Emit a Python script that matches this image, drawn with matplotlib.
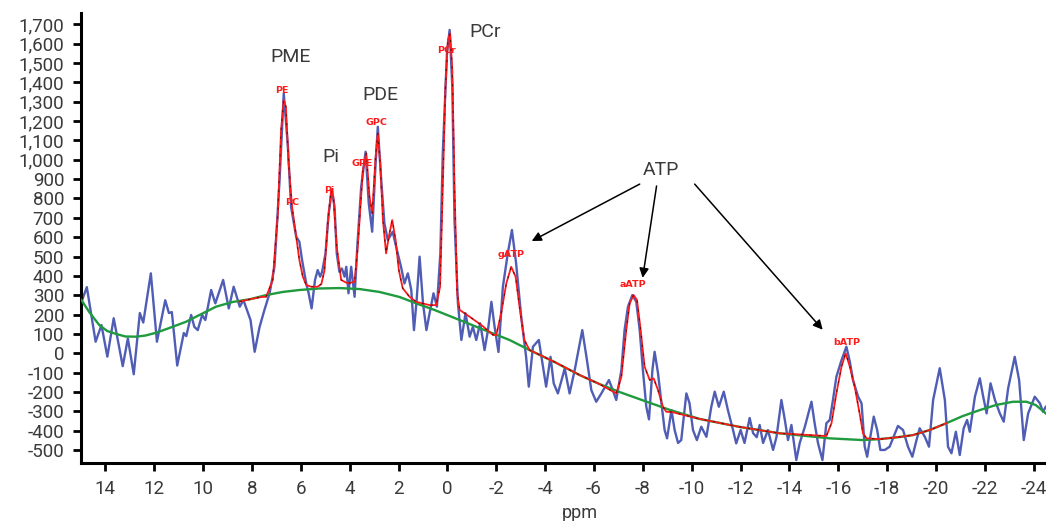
import numpy as np
import matplotlib
matplotlib.use("Agg")
import matplotlib.pyplot as plt

# ---- data (ppm, intensity) ----
spec_ppm = [14.95, 14.76, 14.40, 14.16, 13.92, 13.66, 13.29, 13.08, 12.84, 12.59,
            12.45, 12.14, 11.89, 11.55, 11.40, 11.28, 11.06, 10.79, 10.69, 10.49,
            10.36, 10.22, 10.04, 9.91, 9.67, 9.50, 9.18, 8.95, 8.75, 8.50,
            8.35, 8.06, 7.89, 7.69, 7.49, 7.28, 7.08, 6.87, 6.70, 6.53,
            6.40, 6.19, 6.06, 5.95, 5.78, 5.68, 5.56, 5.42, 5.31, 5.21,
            5.13, 4.99, 4.86, 4.73, 4.62, 4.53, 4.42, 4.32, 4.21, 4.14,
            4.05, 3.94, 3.80, 3.69, 3.53, 3.35, 3.22, 3.08, 2.94, 2.85,
            2.71, 2.58, 2.44, 2.24, 2.10, 1.90, 1.76, 1.62, 1.48, 1.37,
            1.26, 1.14, 1.00, 0.86, 0.73, 0.57, 0.43, 0.29, 0.19, 0.02,
            -0.09, -0.20, -0.29, -0.43, -0.57, -0.74, -0.91, -1.04, -1.18, -1.34,
            -1.52, -1.66, -1.80, -1.93, -2.09, -2.27, -2.47, -2.64, -2.81, -3.02,
            -3.22, -3.33, -3.50, -3.74, -3.91, -4.04, -4.22, -4.35, -4.52, -4.73,
            -4.80, -5.00, -5.21, -5.52, -5.69, -5.89, -6.09, -6.30, -6.61, -6.77,
            -6.91, -7.12, -7.25, -7.39, -7.57, -7.73, -7.87, -8.00, -8.14, -8.25,
            -8.39, -8.48, -8.62, -8.76, -8.89, -8.99, -9.17, -9.30, -9.44, -9.57,
            -9.78, -9.91, -10.05, -10.21, -10.39, -10.60, -10.80, -10.94, -11.11, -11.31,
            -11.48, -11.69, -11.82, -12.00, -12.16, -12.37, -12.51, -12.66, -12.78, -12.92,
            -13.12, -13.33, -13.47, -13.67, -13.81, -13.94, -14.08, -14.28, -14.42, -14.63,
            -14.90, -15.03, -15.17, -15.35, -15.51, -15.65, -15.78, -15.92, -16.13, -16.33,
            -16.47, -16.60, -16.81, -16.95, -17.08, -17.18, -17.31, -17.45, -17.59, -17.72,
            -17.90, -18.10, -18.44, -18.65, -18.85, -19.03, -19.20, -19.33, -19.54, -19.71,
            -19.88, -20.15, -20.36, -20.49, -20.63, -20.81, -20.97, -21.13, -21.27, -21.38,
            -21.59, -21.79, -21.93, -22.07, -22.23, -22.41, -22.61, -22.77, -22.95, -23.22,
            -23.40, -23.59, -23.77, -24.04, -24.25, -24.38, -24.49]
spec_val = [275, 342, 60, 146, -17, 181, -66, 77, -108, 208,
            159, 413, 60, 274, 208, 213, -63, 105, 89, 198,
            137, 120, 198, 172, 327, 258, 379, 232, 344, 241,
            275, 172, 8, 136, 224, 310, 447, 895, 1343, 1067,
            757, 602, 576, 482, 361, 310, 232, 379, 430, 396,
            421, 516, 723, 843, 757, 516, 421, 438, 396, 447,
            310, 447, 292, 550, 860, 1041, 775, 628, 981, 1170,
            895, 671, 585, 628, 550, 447, 361, 413, 327, 120,
            275, 499, 258, 120, 207, 310, 241, 516, 1033, 1549,
            1670, 1377, 688, 258, 69, 207, 86, 137, 69, 155,
            17, 120, 266, 137, 7, 344, 516, 637, 466, 189,
            -18, -172, 34, 69, -69, -172, -18, -155, -207, -112,
            -77, -207, -86, 120, -18, -190, -250, -207, -138, -190,
            -241, -86, 120, 241, 301, 266, 120, -86, -276, -341,
            -86, 8, -103, -258, -396, -439, -293, -396, -463, -448,
            -207, -258, -396, -448, -379, -431, -276, -198, -276, -198,
            -293, -396, -465, -396, -463, -334, -412, -433, -370, -463,
            -396, -499, -431, -241, -344, -448, -370, -551, -463, -379,
            -250, -361, -465, -551, -361, -344, -241, -121, -35, 34,
            -43, -138, -224, -258, -482, -534, -431, -327, -396, -499,
            -499, -482, -375, -396, -482, -534, -448, -387, -431, -482,
            -241, -77, -241, -482, -516, -405, -525, -387, -344, -405,
            -224, -129, -224, -310, -155, -241, -310, -353, -181, -18,
            -138, -448, -310, -224, -258, -302, -276]

base_ppm = [14.98, 14.66, 14.25, 13.92, 13.56, 13.18, 12.74, 12.36, 11.93, 11.38,
            10.70, 10.15, 9.47, 8.80, 8.10, 7.41, 6.74, 6.06, 5.24, 4.42,
            3.60, 2.78, 1.96, 1.28, 0.53, -0.50, -1.52, -2.54, -3.36, -4.39,
            -5.41, -6.23, -7.05, -8.07, -9.10, -10.33, -11.96, -13.60, -15.65, -17.01,
            -17.70, -18.51, -19.06, -19.74, -20.42, -21.09, -21.79, -22.45, -23.15, -23.70,
            -24.08, -24.49]
base_val = [275, 213, 146, 115, 100, 87, 86, 92, 106, 131,
            163, 198, 241, 265, 279, 301, 317, 327, 335, 337,
            332, 317, 291, 258, 224, 172, 120, 69, 17, -45,
            -112, -159, -200, -246, -292, -339, -380, -413, -439, -448,
            -443, -432, -422, -396, -361, -324, -293, -267, -250, -250,
            -267, -310]

fit_ppm = [8.51, 8.10, 7.61, 7.42, 7.15, 6.94, 6.81, 6.70, 6.61, 6.50,
           6.36, 6.19, 6.06, 5.92, 5.78, 5.58, 5.31, 5.16, 5.03, 4.90,
           4.76, 4.67, 4.53, 4.35, 4.08, 3.80, 3.67, 3.46, 3.32, 3.19,
           3.08, 2.94, 2.85, 2.75, 2.64, 2.51, 2.40, 2.26, 2.12, 1.99,
           1.83, 1.55, 1.28, 0.73, 0.46, 0.30, 0.19, 0.08, -0.02, -0.11,
           -0.20, -0.29, -0.40, -0.50, -0.91, -1.44, -1.86, -2.00, -2.20, -2.41,
           -2.61, -2.79, -2.95, -3.15, -3.36, -4.39, -5.41, -6.23, -6.91, -7.12,
           -7.32, -7.46, -7.62, -7.76, -7.91, -8.07, -8.28, -8.44, -8.62, -8.82,
           -8.96, -9.18, -10.33, -11.96, -13.60, -15.51, -15.72, -15.92, -16.13, -16.30,
           -16.47, -16.67, -16.87, -17.01, -17.15, -17.70, -18.51, -19.06, -19.74, -20.42]
fit_val = [267, 279, 291, 292, 379, 723, 1153, 1308, 1273, 981,
           757, 602, 482, 396, 353, 344, 344, 358, 430, 671,
           843, 809, 550, 379, 361, 370, 550, 947, 1033, 809,
           723, 1015, 1136, 981, 688, 516, 602, 688, 585, 430,
           336, 292, 266, 249, 249, 344, 860, 1377, 1618, 1652,
           1463, 860, 310, 224, 189, 141, 95, 95, 207, 361,
           447, 396, 241, 69, 17, -45, -112, -159, -207, -121,
           120, 258, 301, 275, 120, -69, -138, -129, -190, -276,
           -302, -303, -339, -380, -413, -427, -361, -207, -69, 0,
           -69, -172, -310, -413, -439, -443, -432, -422, -396, -361]

# small red labels of the fitted components
comp_names = ["PE", "PC", "Pi", "GPE", "GPC", "PCr", "gATP", "aATP", "bATP"]
comp_ppm = [6.76, 6.36, 4.83, 3.50, 2.89, 0.02, -2.61, -7.59, -16.33]
comp_val = [1356, 780, 840, 978, 1193, 1566, 508, 353, 57]

# group labels
group_names = ["PME", "Pi", "PDE", "PCr", "ATP"]
group_ppm = [6.42, 4.79, 2.74, -1.56, -8.73]
group_val = [1530, 1014, 1334, 1659, 947]

# ATP arrows: (tail ppm, tail val) -> (head ppm, head val)
arrow_tail = [(-7.87, 874), (-8.56, 864), (-10.12, 874)]
arrow_head = [(-3.45, 580), (-7.99, 390), (-15.36, 122)]

plt.rcParams['font.family'] = ['Roboto', 'DejaVu Sans']
txt_col = '#3a3a3a'

fig = plt.figure(figsize=(10.46, 5.21), dpi=100)
ax = fig.add_axes([0.0774, 0.1107, 0.9226, 0.8649])

ax.plot(spec_ppm, spec_val, color='#4f5db5', lw=1.7, zorder=2,
        solid_joinstyle='round')
ax.plot(base_ppm, base_val, color='#1f9a3e', lw=1.7, zorder=3)
ax.plot(fit_ppm, fit_val, color='#ff1a1a', lw=1.3, zorder=4,
        solid_joinstyle='round')
ax.plot(fit_ppm, fit_val, color='black', lw=0.8, ls=(0, (2, 6)), alpha=0.6, zorder=5)

for n, x, y in zip(comp_names, comp_ppm, comp_val):
    ax.text(x, y, n, color='#ff1a1a', fontsize=6.8, fontweight='bold',
            ha='center', va='center', zorder=6,
            family=['Liberation Sans Narrow', 'DejaVu Sans'])

for n, x, y in zip(group_names, group_ppm, group_val):
    ax.text(x, y, n, color=txt_col, fontsize=14, ha='center', va='center', zorder=6)

for t, h in zip(arrow_tail, arrow_head):
    ax.annotate('', xy=h, xytext=t,
                arrowprops=dict(arrowstyle='-|>', color='black', lw=1.1,
                                mutation_scale=14, shrinkA=0, shrinkB=0))

ax.set_xlim(15.0, -24.5)
ax.set_ylim(-568, 1759)
ax.set_xticks(np.arange(14, -25, -2))
ax.set_xticklabels([str(v) for v in range(14, -25, -2)])
ax.set_yticks(np.arange(-500, 1701, 100))
ax.set_yticklabels([f"{v:,}" for v in range(-500, 1701, 100)])

for s in ['top', 'right']:
    ax.spines[s].set_visible(False)
for s in ['left', 'bottom']:
    ax.spines[s].set_linewidth(2.2)
ax.tick_params(axis='both', direction='out', length=6, width=2.0,
               labelsize=13.5, labelcolor=txt_col, color='black')
ax.tick_params(axis='y', pad=6)
ax.tick_params(axis='x', pad=6)

ax.set_xlabel('ppm', fontsize=13, color=txt_col, labelpad=1)
ax.xaxis.set_label_coords(0.517, -0.09)

fig.savefig('out.png', dpi=100)
